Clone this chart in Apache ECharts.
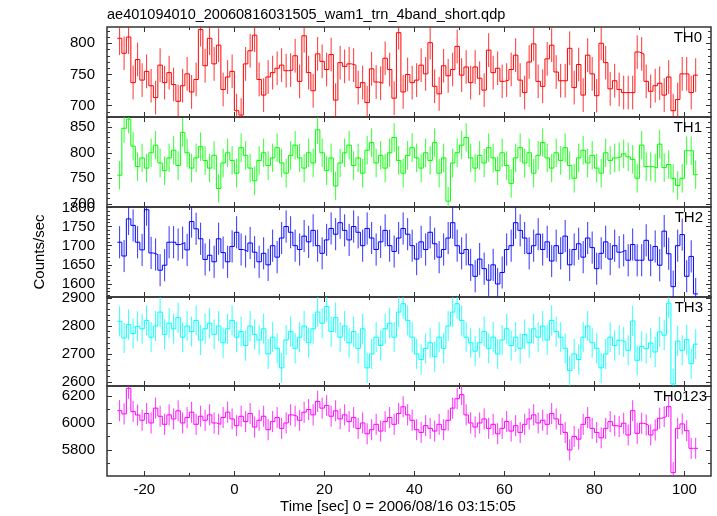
<!DOCTYPE html>
<html><head><meta charset="utf-8">
<script src="https://cdn.jsdelivr.net/npm/echarts@6/dist/echarts.min.js"></script>
<style>html,body{margin:0;padding:0;background:#fff}#c{width:717px;height:516px}</style>
</head><body><div id="c"></div>
<script>
// ---------------- data ----------------
const titleText = "ae401094010_20060816031505_wam1_trn_4band_short.qdp";
const xTitle = "Time [sec] 0 = 2006/08/16 03:15:05";
const yTitle = "Counts/sec";
const panelNames = ["TH0", "TH1", "TH2", "TH3", "TH0123"];
const binStart = -26;   // start time of the first 1-s bin
const binWidth = 1;

const th0 = [808,784,810,737,774,741,755,732,713,765,737,753,734,707,732,751,722,742,822,764,808,767,797,726,746,755,692,685,767,788,813,742,717,746,753,760,765,756,757,780,739,812,753,
724,783,771,758,782,709,769,763,767,765,729,737,705,759,738,736,776,758,712,817,722,750,737,741,765,751,801,731,719,764,748,758,795,749,762,737,762,744,725,789,753,760,
739,741,758,781,741,721,770,799,739,731,775,797,754,740,740,792,729,766,717,781,751,716,800,769,727,740,726,721,721,721,786,783,739,723,732,736,717,746,692,710,751,751,721,749];

const th1 = [756,848,866,813,773,
790,770,800,815,780,765,790,805,775,840,800,770,790,812,785,
770,795,730,780,800,785,760,810,795,770,745,785,800,775,790,
810,780,760,795,815,790,770,800,780,845,800,765,790,735,780,
800,815,775,790,760,805,820,780,795,770,800,830,785,760,795,
810,790,770,800,785,820,760,790,705,780,800,815,830,790,770,
795,780,810,790,765,800,775,740,790,810,780,800,760,795,820,
790,770,800,785,810,775,750,790,805,780,795,770,760,800,785,790,
792,798,792,787,750,815,773,773,770,817,771,777,750,736,750,804,804,757];

const th2 = [1709,1673,1770,1753,1709,1689,1794,1681,1677,1636,1649,1709,1709,1703,1708,1689,1763,1744,1718,1664,1675,1658,1718,1682,1658,1698,1735,1690,1685,1707,1683,1658,
1680,1650,1700,1670,1720,1750,1735,1700,1690,1725,1710,1740,1700,1680,1715,
1745,1730,1760,1740,1715,1750,1735,1700,1745,1720,1690,1710,1740,1700,1685,
1720,1745,1730,1700,1665,1710,1690,1735,1705,1670,1690,1720,1760,1700,1680,
1690,1650,1620,1665,1640,1610,1650,1600,1630,1690,1700,1760,1740,1720,1680,
1700,1730,1690,1710,1660,1700,1680,1725,1650,1690,1705,1670,1720,1695,1640,1680,1710,1665,1700,
1683,1688,1662,1703,1662,1662,1714,1662,1698,1649,1738,1679,1593,1700,1729,1620,1672,1574];

const th3 = [2817,2757,2805,2773,2799,
2790,2820,2760,2800,2850,2770,2810,2790,2830,2760,2800,2780,2820,2750,2790,
2810,2770,2800,2740,2790,2820,2760,2780,2730,2800,2770,2750,2790,2700,2760,
2720,2650,2750,2780,2720,2760,2800,2740,2790,2850,2810,2870,2780,2830,2760,
2800,2740,2780,2720,2790,2650,2700,2760,2730,2790,2810,2760,2850,2880,2820,
2760,2700,2680,2720,2740,2690,2760,2720,2800,2850,2880,2820,2760,2740,2710,
2740,2780,2720,2760,2700,2750,2790,2730,2760,2720,2770,2740,2790,2760,2800,
2750,2820,2780,2760,2720,2640,2700,2680,2760,2800,2740,2720,2650,2700,2760,2730,
2749,2743,2713,2818,2677,2727,2719,2739,2707,2779,2767,2882,2592,2746,2713,2751,2665,2735];

const th0123 = [6091,6067,6257,6084,6059,
6020,6070,6000,6110,6050,5990,6060,6030,6090,6000,6040,6080,5990,6050,6020,
6060,6000,5990,6040,6080,6030,5980,6050,6010,6070,5970,6020,6050,5950,6010,
6040,5960,6000,6060,6050,6020,6080,6100,6060,6160,6110,6130,6050,6090,6030,
6060,6010,6040,5960,6000,5920,5950,5990,5940,6010,6040,5990,6070,6120,6060,
6020,5950,5930,5980,5960,5940,5990,5950,6020,6110,6180,6210,6060,6000,5970,
6000,6030,5960,5990,5920,5960,6010,5940,5980,5930,5990,6030,6060,6000,6020,
5990,6070,6030,5990,5930,5800,5900,5880,5990,6040,5960,5930,5890,5960,6010,5980,
5973,5998,5911,6091,5923,5998,5985,5911,5948,6035,6047,6121,5632,5960,5993,5943,5812,5812];

// 1-sigma error bar half-length of each band (counts/sec)
const errors = [27, 28, 42, 54, 78];

// tick values
const xMajor = [-20, 0, 20, 40, 60, 80, 100];
const xMinor = [-10, 10, 30, 50, 70, 90];
const yMajor = [[700, 750, 800], [700, 750, 800, 850], [1600, 1650, 1700, 1750, 1800], [2600, 2700, 2800, 2900], [5800, 6000, 6200]];
const yMinor = [
  [690, 710, 720, 730, 740, 760, 770, 780, 790, 810, 820],
  [710, 720, 730, 740, 760, 770, 780, 790, 810, 820, 830, 840, 860, 870],
  [1570, 1580, 1590, 1610, 1620, 1630, 1640, 1660, 1670, 1680, 1690, 1710, 1720, 1730, 1740, 1760, 1770, 1780, 1790],
  [2620, 2640, 2660, 2680, 2720, 2740, 2760, 2780, 2820, 2840, 2860, 2880],
  [5700, 5900, 6100]
];
const bands = [th0, th1, th2, th3, th0123];

// ---------------- layout / style ----------------
const X_MIN = -28.3, X_MAX = 105.9;
const panels = [
  {top: 27, height: 90, min: 681.9, max: 826.1},
  {top: 117, height: 90, min: 693.7, max: 870.2},
  {top: 207, height: 90, min: 1566, max: 1801},
  {top: 297, height: 89, min: 2585, max: 2904},
  {top: 386, height: 90, min: 5607, max: 6274}
];
const colors = ['#ff0000', '#00ff00', '#0000ff', '#00ffff', '#ff00ff'];
const labelRight = [702, 702, 703, 703, 707];
const FONT = '"Liberation Sans", Arial, Helvetica, sans-serif';
const AX = '#333';
const plain = v => String(v);

const chart = echarts.init(document.getElementById('c'), null, {renderer: 'canvas', width: 717, height: 516});
const grids = [], xAxes = [], yAxes = [], seriesList = [], graphics = [];

panels.forEach((p, i) => {
  grids.push({left: 107, right: 6, top: p.top, height: p.height, show: true,
    borderColor: AX, borderWidth: 1.5, backgroundColor: 'transparent'});
  const isLast = i === panels.length - 1;
  const mkX = (pos, vals, len, labels) => ({
    type: 'value', gridIndex: i, position: pos, min: X_MIN, max: X_MAX,
    axisLine: {show: false, onZero: false}, splitLine: {show: false},
    axisTick: {show: true, inside: true, length: len, customValues: vals, lineStyle: {color: AX, width: 1}},
    axisLabel: {show: labels, customValues: vals, formatter: plain, fontSize: 15, color: '#000', fontFamily: FONT, margin: 6}
  });
  xAxes.push(mkX('bottom', xMajor, 5, isLast), mkX('bottom', xMinor, 3, false),
             mkX('top', xMajor, 5, false), mkX('top', xMinor, 3, false));
  const mkY = (pos, vals, len, labels) => ({
    type: 'value', gridIndex: i, position: pos, min: p.min, max: p.max,
    axisLine: {show: false, onZero: false}, splitLine: {show: false},
    axisTick: {show: true, inside: true, length: len, customValues: vals, lineStyle: {color: AX, width: 1}},
    axisLabel: {show: labels, customValues: vals, formatter: plain, fontSize: 15, color: '#000', fontFamily: FONT, margin: 12}
  });
  yAxes.push(mkY('left', yMajor[i], 5, true), mkY('left', yMinor[i], 3, false),
             mkY('right', yMajor[i], 5, false), mkY('right', yMinor[i], 3, false));

  const vals = bands[i];
  const err = errors[i];
  // error bars
  seriesList.push({
    type: 'custom', xAxisIndex: 4 * i, yAxisIndex: 4 * i, clip: true, silent: true,
    data: vals.map((v, k) => [binStart + (k + 0.5) * binWidth, v - err, v + err]),
    encode: {x: 0, y: [1, 2]},
    renderItem: (params, api) => {
      const a = api.coord([api.value(0), api.value(1)]);
      const b = api.coord([api.value(0), api.value(2)]);
      return {type: 'line', shape: {x1: a[0], y1: a[1], x2: b[0], y2: b[1]},
        style: {stroke: colors[i], lineWidth: 1, opacity: 0.8}};
    }
  });
  // histogram step line
  const stepData = vals.map((v, k) => [binStart + k * binWidth, v]);
  stepData.push([binStart + vals.length * binWidth, vals[vals.length - 1]]);
  seriesList.push({
    type: 'line', step: 'end', xAxisIndex: 4 * i, yAxisIndex: 4 * i, data: stepData,
    symbol: 'none', showSymbol: false, silent: true, clip: true,
    lineStyle: {color: colors[i], width: 1}
  });
  graphics.push({type: 'text', x: labelRight[i], y: p.top + 10.5,
    style: {text: panelNames[i], font: '15px ' + FONT, fill: '#000', align: 'right', verticalAlign: 'middle'}});
});

graphics.push({type: 'text', x: 107, y: 15,
  style: {text: titleText, font: '14.5px ' + FONT, fill: '#000', align: 'left', verticalAlign: 'middle'}});
graphics.push({type: 'text', x: 398, y: 507,
  style: {text: xTitle, font: '15px ' + FONT, fill: '#000', align: 'center', verticalAlign: 'middle'}});
graphics.push({type: 'text', x: 40, y: 252, rotation: Math.PI / 2,
  style: {text: yTitle, font: '15px ' + FONT, fill: '#000', align: 'center', verticalAlign: 'middle'}});

chart.setOption({
  animation: false,
  backgroundColor: '#fff',
  grid: grids, xAxis: xAxes, yAxis: yAxes, series: seriesList, graphic: graphics
});
</script>
</body></html>
